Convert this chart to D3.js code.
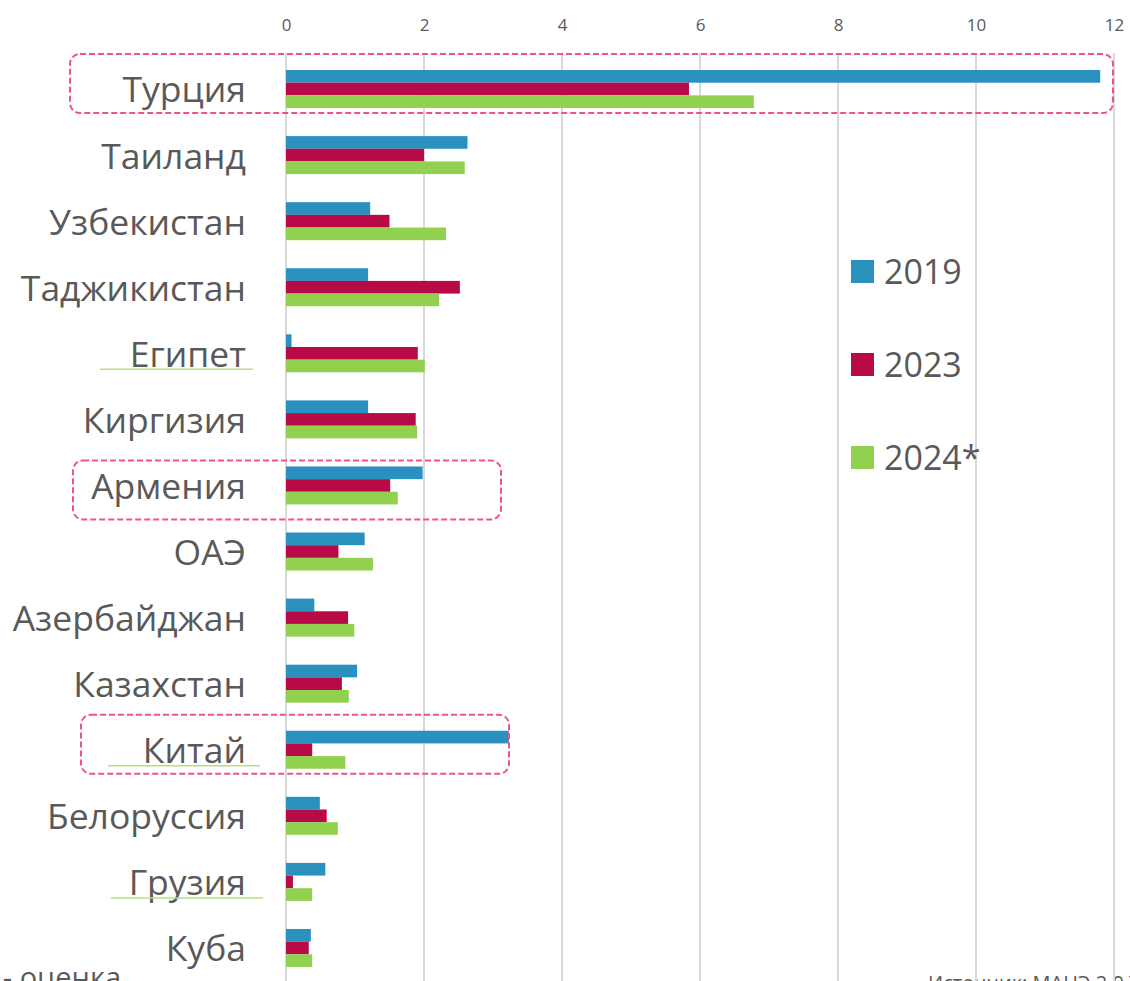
<!DOCTYPE html>
<html><head><meta charset="utf-8">
<script src="https://cdn.jsdelivr.net/npm/d3@7"></script>
<style>body{margin:0;background:#fff;overflow:hidden}svg{display:block}</style>
</head><body>
<script>
const categories = ["Турция","Таиланд","Узбекистан","Таджикистан","Египет","Киргизия","Армения","ОАЭ","Азербайджан","Казахстан","Китай","Белоруссия","Грузия","Куба"];
const seriesNames = ["2019","2023","2024*"];
const v2019 = [11.8,2.63,1.22,1.19,0.08,1.19,1.98,1.14,0.41,1.03,3.23,0.49,0.57,0.36];
const v2023 = [5.84,2.0,1.5,2.52,1.91,1.88,1.51,0.76,0.9,0.81,0.38,0.59,0.1,0.33];
const v2024 = [6.78,2.59,2.32,2.22,2.01,1.9,1.62,1.26,0.99,0.91,0.86,0.75,0.38,0.38];
const ticks = [0,2,4,6,8,10,12];
const highlighted = ["Турция","Армения","Китай"];
const underlined = ["Египет","Китай","Грузия"];
const colors = ["#2a91be","#b90a48","#92d050"];

const W=1130,H=981;
const svg=d3.select("body").append("svg").attr("width",W).attr("height",H);
const font="'Open Sans', 'Noto Sans', sans-serif";
const x=d3.scaleLinear().domain([0,12]).range([286,1114]);
const y=d3.scaleBand().domain(categories).range([56,981]).paddingInner(0.425).paddingOuter(0.2125);
const ys=d3.scaleBand().domain(seriesNames).range([0,y.bandwidth()]);
const values=[v2019,v2023,v2024];

// footnotes (behind gridlines)
svg.append("text").attr("x",121).attr("y",988).attr("text-anchor","end")
  .attr("font-family",font).attr("font-size",29).attr("fill","#595959").text("* - оценка");
svg.append("text").attr("x",928).attr("y",990)
  .attr("font-family",font).attr("font-size",20).attr("fill","#595959").text("Источник: МАНЭ 2.0 ТАУ");

// gridlines
svg.append("g").selectAll("line").data(ticks).join("line")
  .attr("x1",d=>x(d)).attr("x2",d=>x(d)).attr("y1",53).attr("y2",H)
  .attr("stroke","#d9d9d9").attr("stroke-width",2);

// top axis
const ax=svg.append("g").attr("transform","translate(0,40)")
  .call(d3.axisTop(x).tickValues(ticks).tickSize(0).tickPadding(9).tickFormat(d3.format("d")));
ax.select(".domain").remove();
ax.selectAll("text").attr("font-family",font).attr("font-size",17).attr("fill","#595959");

// bars
const g=svg.append("g");
seriesNames.forEach((s,i)=>{
  g.append("g").selectAll("rect").data(categories).join("rect")
    .attr("x",x(0)).attr("y",(c)=>y(c)+ys(s))
    .attr("width",(c,j)=>x(values[i][j])-x(0)).attr("height",ys.bandwidth())
    .attr("fill",colors[i]);
});

// category labels
svg.append("g").selectAll("text").data(categories).join("text")
  .attr("x",246).attr("y",c=>y(c)+y.bandwidth()/2+1).attr("dy","0.35em")
  .attr("text-anchor","end").attr("font-family",font).attr("font-size",35.5).attr("fill","#595959")
  .text(c=>c);

// underlines
svg.append("g").selectAll("line").data(underlined).join("line")
  .attr("x1",c=>c==="Египет"?100:(c==="Китай"?108:111))
  .attr("x2",c=>c==="Египет"?253:(c==="Китай"?260:263))
  .attr("y1",c=>y(c)+y.bandwidth()/2+16).attr("y2",c=>y(c)+y.bandwidth()/2+16)
  .attr("stroke","#b5e07f").attr("stroke-width",1.5);

// highlight boxes
const boxes={"Турция":[70,1113,-35],"Армения":[73,501,-25],"Китай":[81,509,-35]};
svg.append("g").selectAll("rect").data(highlighted).join("rect")
  .attr("x",c=>boxes[c][0]).attr("width",c=>boxes[c][1]-boxes[c][0])
  .attr("y",c=>y(c)+y.bandwidth()/2+boxes[c][2]).attr("height",59)
  .attr("rx",10).attr("fill","none").attr("stroke","#f2508a").attr("stroke-width",2)
  .attr("stroke-dasharray","6,3");

// legend
const lg=svg.append("g");
seriesNames.forEach((s,i)=>{
  const yy=260+i*93;
  lg.append("rect").attr("x",851).attr("y",yy).attr("width",23).attr("height",23).attr("fill",colors[i]);
  lg.append("text").attr("x",884).attr("y",yy+11.5).attr("dy","0.36em")
    .attr("font-family",font).attr("font-size",34).attr("fill","#595959").text(s);
});
</script>
</body></html>
